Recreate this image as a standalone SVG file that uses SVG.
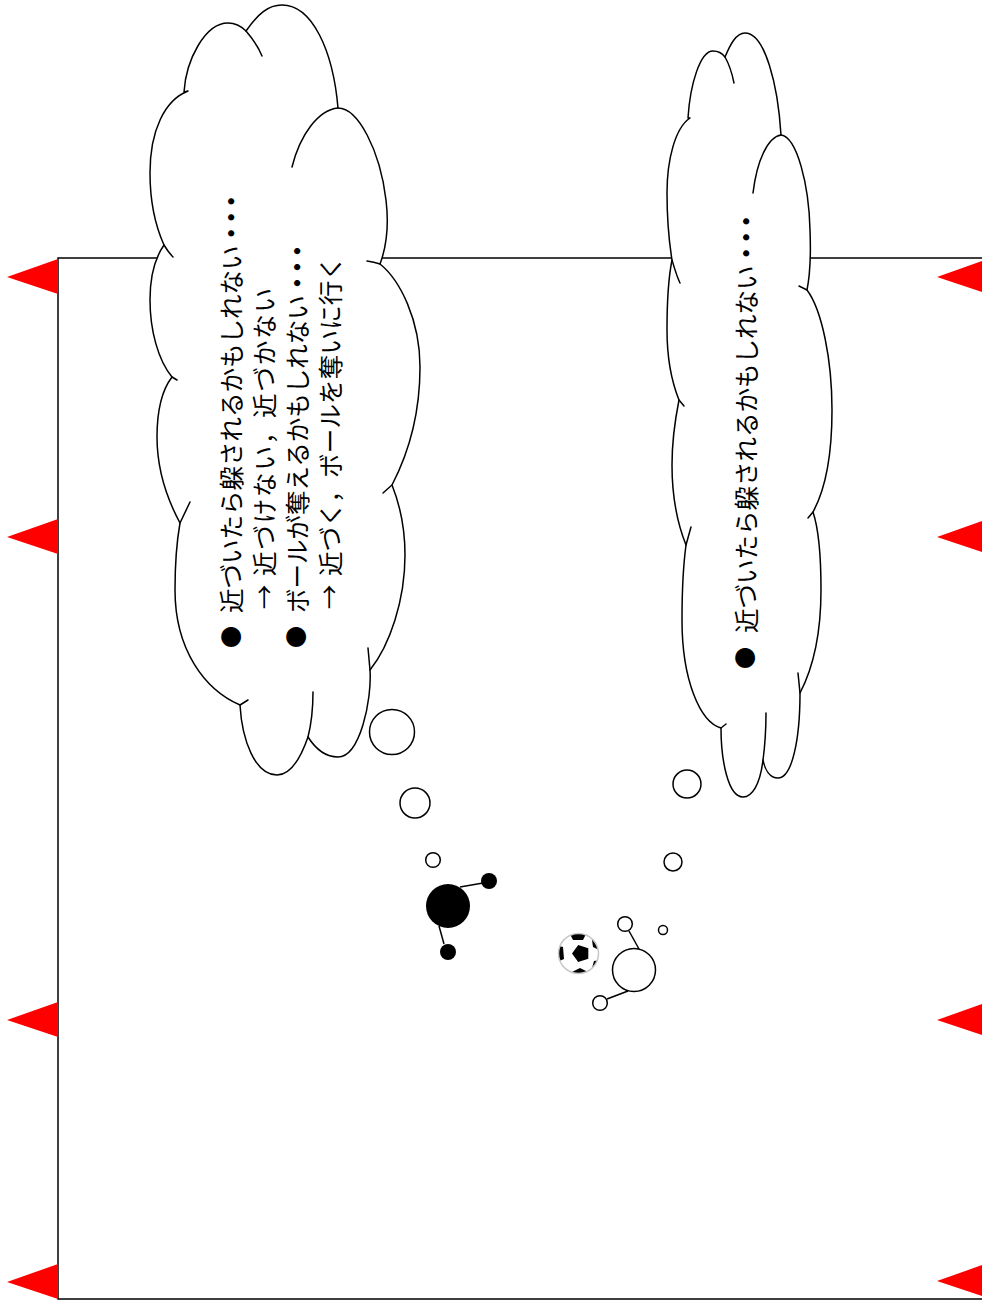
<svg xmlns="http://www.w3.org/2000/svg" width="982" height="1301" viewBox="0 0 982 1301">
  <style>
    .field { fill: none; stroke: #000; stroke-width: 1.5; }
    .flag { fill: #ff0000; stroke: none; }
    .cloud { fill: #fff; stroke: #000; stroke-width: 1.5; stroke-linejoin: round; }
    .crease { fill: none; stroke: #000; stroke-width: 1.5; stroke-linecap: round; }
    .bubble { fill: #fff; stroke: #000; stroke-width: 1.5; }
    .txt { font-family: "Noto Sans CJK JP", "Noto Sans", sans-serif; font-size: 24.5px; fill: #000; dominant-baseline: central; }
    .bullet { font-size: 22px; }
    .dots { letter-spacing: -8.5px; font-weight: bold; }
    .link { stroke: #000; stroke-width: 1.5; }
  </style>
  <defs>
    <polygon id="flagL" class="flag" points="58,-18 7,0 58,17"/>
    <polygon id="flagR" class="flag" points="988,-18 937,0 988,17"/>
    <clipPath id="ballClip"><circle cx="578.5" cy="953.5" r="20"/></clipPath>
  </defs>

  <rect width="982" height="1301" fill="#fff"/>

  <!-- pitch outline -->
  <g id="pitch">
    <path class="field" d="M 982,258 H 58 V 1299 H 982"/>
  </g>

  <!-- corner / side flags -->
  <g id="flags">
    <use href="#flagL" transform="translate(0,277)"/>
    <use href="#flagL" transform="translate(0,537)"/>
    <use href="#flagL" transform="translate(0,1020)"/>
    <use href="#flagL" transform="translate(0,1282)"/>
    <use href="#flagR" transform="translate(0,277)"/>
    <use href="#flagR" transform="translate(0,537)"/>
    <use href="#flagR" transform="translate(0,1020)"/>
    <use href="#flagR" transform="translate(0,1281)"/>
  </g>

  <!-- thought cloud of the defender (left) -->
  <g id="cloud-left">
    <path class="cloud" d="M 184,92
      C 186,60 205,23 228,23 C 236,23 242,27 246,31
      C 258,14 268,5 282,5 C 312,5 333,50 338,108
      C 358,108 380,150 386,200 C 389,225 386,248 380,264
      C 400,280 420,320 420,367 C 420,420 405,460 392,485
      C 400,505 405,530 405,555 C 405,600 390,645 370,670
      C 372,700 360,757 338,757 C 325,757 315,748 308,737
      C 300,760 290,775 277,775 C 255,775 242,740 240,705
      C 205,690 175,650 175,590 C 175,560 177,540 180,523
      C 165,495 157,465 157,437 C 157,410 162,390 172,377
      C 158,360 150,330 150,300 C 150,275 155,258 164,245
      C 155,225 150,200 150,173 C 150,130 165,100 188,91 Z"/>
    <path class="crease" d="M 246,31 C 252,38 258,46 262,56"/>
    <path class="crease" d="M 338,108 C 318,110 300,135 292,167"/>
    <path class="crease" d="M 367,261 Q 374,262 380,264"/>
    <path class="crease" d="M 392,485 L 383,493"/>
    <path class="crease" d="M 368,648 L 370,670"/>
    <path class="crease" d="M 313,692 C 313,710 311,725 308,737"/>
    <path class="crease" d="M 248,700 L 240,705"/>
    <path class="crease" d="M 180,523 L 190,502"/>
    <path class="crease" d="M 172,377 L 177,380"/>
    <path class="crease" d="M 164,245 C 167,250 170,254 173,257"/>
    <g class="txt" transform="rotate(-90)">
      <text class="bullet" x="-637" y="229" text-anchor="middle">●</text>
      <text x="-613" y="230">近づいたら躱されるかもしれない<tspan class="dots">・・・</tspan></text>
      <text x="-597" y="263" text-anchor="middle">→</text>
      <text x="-576" y="263" textLength="288" lengthAdjust="spacing">近づけない，近づかない</text>
      <text class="bullet" x="-637" y="294" text-anchor="middle">●</text>
      <text x="-613" y="296">ボールが奪えるかもしれない<tspan class="dots">・・・</tspan></text>
      <text x="-597" y="328" text-anchor="middle">→</text>
      <text x="-576" y="329" textLength="320" lengthAdjust="spacing">近づく，ボールを奪いに行く</text>
    </g>
    <circle class="bubble" cx="392" cy="732" r="22.5"/>
    <circle class="bubble" cx="415" cy="803" r="15"/>
    <circle class="bubble" cx="433" cy="860" r="7.3"/>
  </g>

  <!-- thought cloud of the attacker (right) -->
  <g id="cloud-right">
    <path class="cloud" d="M 688,118
      C 690,85 700,51 713,51 C 718,51 722,53 725,57
      C 730,45 736,33 745,33 C 765,33 778,85 781,135
      C 797,137 809,185 810,230 C 811,255 810,275 807,290
      C 822,310 832,360 832,410 C 832,455 825,490 813,512
      C 819,530 821,560 821,590 C 821,635 812,670 800,693
      C 800,740 792,778 778,778 C 770,778 765,770 763,760
      C 760,785 752,797 743,797 C 728,797 721,760 721,728
      C 700,722 682,680 682,620 C 682,585 684,560 686,545
      C 676,520 672,490 672,465 C 672,440 675,420 679,400
      C 671,380 667,355 667,330 C 667,300 669,275 672,260
      C 668,235 667,210 667,193 C 667,160 675,128 690,118 Z"/>
    <path class="crease" d="M 725,57 C 729,64 732,73 734,83"/>
    <path class="crease" d="M 781,135 C 768,137 757,160 753,193"/>
    <path class="crease" d="M 799,286 L 807,290"/>
    <path class="crease" d="M 813,512 L 808,518"/>
    <path class="crease" d="M 798,673 L 800,693"/>
    <path class="crease" d="M 766,713 C 766,730 765,745 763,760"/>
    <path class="crease" d="M 726,724 L 721,728"/>
    <path class="crease" d="M 686,545 L 691,527"/>
    <path class="crease" d="M 679,400 L 684,406"/>
    <path class="crease" d="M 672,260 C 675,270 677,277 680,283"/>
    <g class="txt" transform="rotate(-90)">
      <text class="bullet" x="-658" y="743" text-anchor="middle">●</text>
      <text x="-633" y="745">近づいたら躱されるかもしれない<tspan class="dots">・・・</tspan></text>
    </g>
    <circle class="bubble" cx="687" cy="784" r="14"/>
    <circle class="bubble" cx="673" cy="862" r="9"/>
    <circle class="bubble" cx="663" cy="930" r="4.5"/>
  </g>

  <!-- links between player bodies and hands -->
  <g id="connectors">
    <line class="link" x1="460" y1="887" x2="483" y2="883"/>
    <line class="link" x1="439" y1="926" x2="444" y2="944"/>
    <line class="link" x1="639" y1="949" x2="629" y2="931"/>
    <line class="link" x1="628" y1="991" x2="607" y2="999"/>
  </g>

  <!-- defender (black) -->
  <g id="player-black">
    <circle cx="448" cy="906" r="22" fill="#000"/>
    <circle cx="489" cy="881" r="8" fill="#000"/>
    <circle cx="448" cy="952" r="8" fill="#000"/>
  </g>

  <!-- attacker (white) -->
  <g id="player-white">
    <circle cx="634" cy="970" r="21.5" fill="#fff" stroke="#000" stroke-width="1.5"/>
    <circle cx="625" cy="924" r="7.3" fill="#fff" stroke="#000" stroke-width="1.5"/>
    <circle cx="600" cy="1003" r="7.3" fill="#fff" stroke="#000" stroke-width="1.5"/>
  </g>

  <!-- ball -->
  <g id="ball">
    <circle cx="578.5" cy="953.5" r="20" fill="#fff"/>
    <g clip-path="url(#ballClip)" fill="#000">
      <polygon points="572,953.5 578.2,944.9 588.3,948.2 588.3,958.8 578.2,962.1"/>
      <polygon points="578,929 586,934 583,940 573,940 570,934"/>
      <polygon points="597,937 603,944 599,950 593,947 592,940"/>
      <polygon points="600,960 602,970 596,975 592,968 594,961"/>
      <polygon points="580,968 588,972 585,980 575,980 572,972"/>
      <polygon points="555,945 563,947 564,959 557,962 552,953"/>
    </g>
    <circle cx="578.5" cy="953.5" r="20" fill="none" stroke="#c8c8c8" stroke-width="1.5"/>
  </g>
</svg>
